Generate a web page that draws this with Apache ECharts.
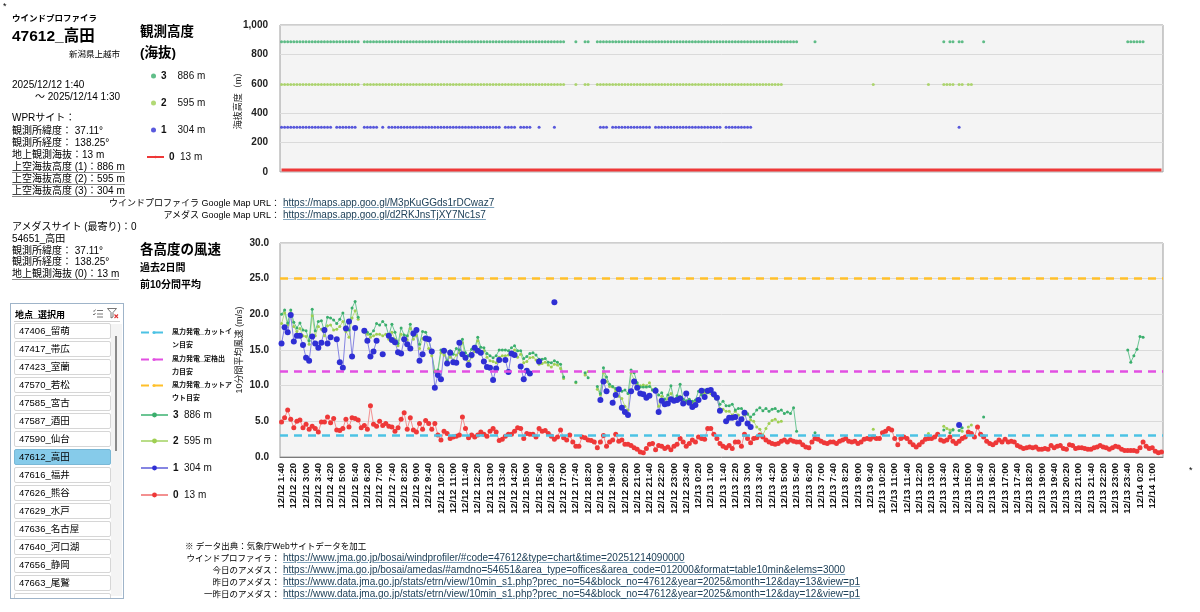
<!DOCTYPE html>
<html>
<head>
<meta charset="utf-8">
<script src="https://cdn.jsdelivr.net/npm/echarts/dist/echarts.min.js"></script>
<style>
body{margin:0;background:#fff;}
#wrap{position:relative;width:1200px;height:612px;overflow:hidden;font-family:"Liberation Sans","Noto Sans CJK JP",sans-serif;color:#000;}
#chart{position:absolute;left:0;top:0;width:1200px;height:612px;}
.t{position:absolute;white-space:nowrap;font-size:10px;line-height:12.2px;z-index:2;}
.b{font-weight:bold;}
.u{display:inline-block;border-bottom:1.5px solid #8a8a8a;line-height:11px;}
.lnk{color:#20425a;text-decoration:underline;text-decoration-color:#7fa3bd;font-size:10px;}
.r{text-align:right;}
#slicer{position:absolute;left:10px;top:303px;width:112px;height:294px;border:1px solid #9fb4c9;background:#fff;overflow:hidden;z-index:2;}
#slicer .hd{position:absolute;left:4px;top:4px;font-size:9px;font-weight:bold;}
#slicer .line{position:absolute;left:3px;right:3px;top:17px;border-top:1px solid #d0d0d0;}
#slicer .it{position:absolute;left:3px;width:91px;height:14px;border:1px solid #d6d6d6;border-radius:2px;font-size:9.5px;line-height:14px;padding-left:4px;box-sizing:content-box;}
#slicer .sel{background:#86cbea;border-color:#7ab8d6;}
#slicer .track{position:absolute;left:100px;top:20px;width:11px;height:272px;background:#f4f4f4;}
#slicer .thumb{position:absolute;left:104px;top:32px;width:2px;height:115px;background:#8a8a8a;}
</style>
</head>
<body>
<div id="wrap">
<div id="chart"></div>

<div class="t" style="left:3px;top:0px;font-size:9px">*</div>
<div class="t" style="left:1189px;top:464px;font-size:9px">*</div>

<div class="t b" style="left:12px;top:12px;font-size:8.5px">ウインドプロファイラ</div>
<div class="t b" style="left:12px;top:26px;font-size:15.5px;line-height:20px">47612_高田</div>
<div class="t" style="left:69px;top:48px;font-size:8.5px">新潟県上越市</div>
<div class="t" style="left:12px;top:79px">2025/12/12 1:40</div>
<div class="t" style="left:35px;top:91px">～ 2025/12/14 1:30</div>
<div class="t" style="left:12px;top:112px">WPRサイト：</div>
<div class="t" style="left:12px;top:125px">観測所緯度： 37.11°</div>
<div class="t" style="left:12px;top:137px">観測所経度： 138.25°</div>
<div class="t" style="left:12px;top:149px">地上観測海抜：13 m</div>
<div class="t" style="left:12px;top:161px"><span class="u">上空海抜高度 (1)：886 m</span></div>
<div class="t" style="left:12px;top:173px"><span class="u">上空海抜高度 (2)：595 m</span></div>
<div class="t" style="left:12px;top:185px"><span class="u">上空海抜高度 (3)：304 m</span></div>
<div class="t" style="left:12px;top:221px">アメダスサイト (最寄り)：0</div>
<div class="t" style="left:12px;top:233px">54651_高田</div>
<div class="t" style="left:12px;top:245px">観測所緯度： 37.11°</div>
<div class="t" style="left:12px;top:256px">観測所経度： 138.25°</div>
<div class="t" style="left:12px;top:268px"><span class="u">地上観測海抜 (0)：13 m</span></div>

<div id="slicer">
  <div class="hd">地点_選択用</div>
  <svg style="position:absolute;left:82px;top:5px" width="10" height="9" viewBox="0 0 10 9">
    <path d="M0 1.5 L1 2.5 L2.5 0.5 M0 5 L1 6 L2.5 4 M4 1.5 H10 M4 5 H10 M4 8 H10" stroke="#666" stroke-width="0.9" fill="none"/>
  </svg>
  <svg style="position:absolute;left:96px;top:4px" width="12" height="11" viewBox="0 0 12 11">
    <path d="M0.5 0.5 H9.5 L6 4.5 V9 L4 10 V4.5 Z" stroke="#666" stroke-width="0.9" fill="none"/>
    <path d="M7.5 6.5 L11 10 M11 6.5 L7.5 10" stroke="#d33" stroke-width="1.1"/>
  </svg>
  <div class="line"></div>
  <div class="track"></div>
  <div class="thumb"></div>
  <div id="items"></div>
</div>

<div class="t b" style="left:140px;top:23px;font-size:13.5px;line-height:17px">観測高度</div>
<div class="t b" style="left:140px;top:44px;font-size:13.5px;line-height:17px">(海抜)</div>

<div class="t r" style="right:920px;top:197px;font-size:9px">ウインドプロファイラ Google Map URL：</div>
<div class="t lnk" style="left:283px;top:197px">https://maps.app.goo.gl/M3pKuGGds1rDCwaz7</div>
<div class="t r" style="right:920px;top:209px;font-size:9px">アメダス Google Map URL：</div>
<div class="t lnk" style="left:283px;top:209px">https://maps.app.goo.gl/d2RKJnsTjXY7Nc1s7</div>

<div class="t b" style="left:140px;top:241px;font-size:13.5px;line-height:17px">各高度の風速</div>
<div class="t b" style="left:140px;top:262px;font-size:10px">過去2日間</div>
<div class="t b" style="left:140px;top:279px;font-size:10px">前10分間平均</div>

<div class="t" style="left:185px;top:540px;font-size:8.5px">※ データ出典：気象庁Webサイトデータを加工</div>
<div class="t r" style="right:920px;top:552px;font-size:8.5px">ウインドプロファイラ：</div>
<div class="t lnk" style="left:283px;top:552px">https://www.jma.go.jp/bosai/windprofiler/#code=47612&amp;type=chart&amp;time=20251214090000</div>
<div class="t r" style="right:920px;top:564px;font-size:8.5px">今日のアメダス：</div>
<div class="t lnk" style="left:283px;top:564px">https://www.jma.go.jp/bosai/amedas/#amdno=54651&amp;area_type=offices&amp;area_code=012000&amp;format=table10min&amp;elems=3000</div>
<div class="t r" style="right:920px;top:576px;font-size:8.5px">昨日のアメダス：</div>
<div class="t lnk" style="left:283px;top:576px">https://www.data.jma.go.jp/stats/etrn/view/10min_s1.php?prec_no=54&amp;block_no=47612&amp;year=2025&amp;month=12&amp;day=13&amp;view=p1</div>
<div class="t r" style="right:920px;top:588px;font-size:8.5px">一昨日のアメダス：</div>
<div class="t lnk" style="left:283px;top:588px">https://www.data.jma.go.jp/stats/etrn/view/10min_s1.php?prec_no=54&amp;block_no=47612&amp;year=2025&amp;month=12&amp;day=12&amp;view=p1</div>
</div>

<script>
// 地点リスト
var stations = ['47406_留萌', '47417_帯広', '47423_室蘭', '47570_若松', '47585_宮古', '47587_酒田',
    '47590_仙台', '47612_高田', '47616_福井', '47626_熊谷', '47629_水戸', '47636_名古屋',
    '47640_河口湖', '47656_静岡', '47663_尾鷲', ''];
var selectedStation = '47612_高田';

var N = 288;  // 10分毎 48時間
var startTime = new Date(2025, 11, 12, 1, 40);

// 観測高度（海抜 m）
var heights = { h0: 13, h1: 304, h2: 595, h3: 886 };

// 風力発電の目安（m/s）
var CUT_IN = 3.0;
var RATED = 12.0;
var CUT_OUT = 25.0;

// 0: 地上 13 m（アメダス）
var ws0 = [
    4.9,5.5,6.6,5.3,4.1,5.0,5.2,4.1,4.6,3.9,
    4.3,4.0,3.5,4.9,4.9,5.6,4.8,5.4,3.8,3.7,
    4.0,5.3,4.2,5.5,5.4,5.2,4.1,4.4,3.9,7.2,
    4.6,4.3,5.0,4.4,4.7,4.3,4.2,3.6,4.1,5.3,
    6.2,3.9,5.5,3.8,3.5,4.7,3.9,5.1,4.7,3.9,
    4.7,3.1,2.4,3.6,3.3,2.6,2.8,2.9,3.1,5.6,
    4.0,2.7,3.1,2.8,3.1,3.5,3.2,2.9,3.6,4.0,
    3.5,2.3,2.5,2.9,3.2,3.2,3.6,4.1,4.0,2.6,
    3.3,3.2,3.2,2.8,4.0,3.6,3.7,3.3,2.9,2.5,
    2.8,3.8,2.7,2.4,3.1,2.1,1.5,1.5,2.8,2.7,
    2.4,2.3,2.1,1.3,2.1,3.0,1.5,2.1,2.4,3.2,
    2.2,2.4,1.8,1.8,1.6,1.3,1.1,0.7,0.6,1.2,
    1.8,1.9,1.0,1.6,1.5,1.2,1.4,1.0,1.5,1.8,
    2.6,2.1,1.5,1.9,2.4,2.1,2.8,2.6,2.5,4.0,
    4.0,3.2,2.6,1.9,1.5,1.3,1.6,1.2,2.1,2.1,
    1.5,3.2,2.6,2.0,2.6,2.7,3.1,2.8,2.4,2.1,
    1.9,1.8,1.9,2.2,2.4,2.1,2.4,2.2,2.1,2.1,
    1.7,1.4,1.3,2.1,2.6,2.5,2.2,2.0,1.9,2.1,
    2.1,1.9,2.2,2.4,2.6,2.2,2.1,2.2,1.9,2.1,
    2.5,2.6,2.5,2.8,2.6,2.6,3.4,3.6,4.0,3.8,
    2.6,1.7,2.6,2.8,2.6,2.1,1.7,1.4,1.7,2.1,
    2.5,2.6,2.6,2.8,3.2,2.4,2.2,2.4,2.8,2.2,
    1.9,2.2,2.6,2.8,3.5,3.3,2.8,4.2,3.2,2.8,
    2.2,1.9,1.7,2.0,2.4,2.1,2.5,2.1,2.2,2.1,
    1.6,1.4,1.2,1.3,1.4,1.3,1.4,1.1,1.1,1.2,
    1.1,1.6,1.3,1.5,1.6,1.2,1.1,1.7,1.6,1.2,
    1.3,1.3,1.2,1.1,1.1,1.3,1.4,1.6,1.4,1.3,
    1.1,1.3,1.5,1.4,1.1,0.9,0.9,0.9,0.9,0.8,
    1.3,2.1,1.5,1.2,1.3,0.8,0.6,0.7
];

// 1: 304 m  [開始インデックス, 値]
var ws1Blocks = [
    [0, [15.9,18.2,17.5,19.9,16.2,17.0,17.0,15.7,13.9,13.5,
         16.9,15.9,15.3,16.0,17.8,15.9,16.8,null,16.5,13.3,
         12.5,18.0,19.0,14.1,18.1,null,null,17.7,16.3,14.1,
         14.8,16.3,null,14.4,null,17.0,16.4,16.1,14.7,14.5,
         16.5,15.8,15.2,17.3,17.8,13.5,14.4,16.6,16.5,14.8,
         9.7,11.5,10.9,14.9,13.1,14.6,13.3,13.2,16.0,14.4,
         13.9,12.9,14.3,15.3,14.9,14.6,13.4,12.6,12.5,10.8,
         12.4,13.6,null,13.6,11.9,14.5,14.3,null,12.7,10.9,
         12.1,11.7,null,null,13.4,null,null,null,null,21.7]],
    [104, [8.0,10.6,9.2,null,7.6,8.7,9.5,6.9,6.3,5.9,
           9.2,10.6,9.7,8.9,8.8,8.3,8.6,null,9.3,6.3,
           7.9,7.4,7.5,8.1,7.9,8.0,8.2,7.5,8.9,7.6,
           7.0,7.3,8.0,9.3,8.4,9.3,9.4,8.8,8.3,6.5,
           null,5.0,5.5,5.5,5.6,4.7,5.3,6.2,4.7,4.2]],
    [221, [4.5]]
];

// 2: 595 m
var ws2Blocks = [
    [0, [18.7,20.2,18.5,20.2,18.3,17.6,18.0,17.0,16.9,15.8,
         19.8,17.0,18.3,17.9,17.0,18.4,18.5,17.8,17.9,18.3,
         19.0,17.6,16.8,19.5,20.5,19.3,null,17.5,17.2,16.8,
         17.0,17.2,17.2,17.0,17.2,16.5,17.5,16.5,15.6,17.2,
         16.3,16.4,18.0,16.5,17.0,15.2,16.6,16.5,15.2,14.2,
         12.1,11.9,14.6,14.3,13.5,14.0,13.6,14.3,14.6,16.0,
         13.9,13.4,14.0,14.8,16.3,14.7,14.9,14.0,13.5,13.4,
         13.2,14.0,14.2,14.2,14.3,14.5,15.0,14.0,14.4,13.2,
         13.4,13.9,14.0,13.6,13.0,13.1,13.3,12.9,12.6,13.0,
         12.9,12.4,11.0]],
    [96, [10.4]],
    [99, [11.5,12.0]],
    [103, [9.5,8.7,11.8,10.6,9.9,9.8,9.2,8.5,8.2,7.1,
           6.6,11.8,10.8,10.1,10.0,10.1,10.0,10.4,9.4,9.4,
           7.1,8.5,7.6,8.2,8.9,7.9,7.8,8.5,7.8,7.6,
           8.0,7.5,7.8,8.2,8.9,9.0,9.2,8.9,8.5,8.1,
           6.8,6.7,6.4,6.4,5.9,6.4,5.9,5.4,5.9,6.1,
           5.2,5.0,4.2,3.9,3.1,4.0,4.7,5.1,5.3,4.9,
           5.0]],
    [193, [3.9]],
    [211, [3.3]],
    [216, [4.3,4.0,3.8,3.9,null,4.4,3.6,null,4.2,4.5]]
];

// 3: 886 m
var ws3Blocks = [
    [0, [20.0,20.6,18.8,20.6,18.9,18.1,18.8,17.8,17.7,16.3,
         20.7,17.7,19.0,19.1,17.6,19.6,19.5,19.2,18.7,19.3,
         20.2,18.2,17.8,20.9,21.8,19.6,null,17.6,17.5,17.2,
         17.7,18.7,18.5,19.0,18.5,17.0,18.6,17.5,15.9,18.1,
         17.1,17.0,18.6,17.0,17.6,15.8,17.6,17.5,16.5,14.6,
         11.9,12.2,15.0,15.0,13.5,14.9,14.4,15.2,15.0,16.5,
         14.6,14.2,15.1,15.2,16.8,15.4,15.3,14.5,14.2,13.9,
         14.2,15.0,15.0,15.0,14.9,15.3,15.6,14.9,14.9,13.8,
         14.1,14.5,14.6,14.3,13.7,13.7,13.8,13.3,13.2,13.5,
         13.3,13.0,11.2]],
    [96, [10.5]],
    [99, [11.8,11.1]],
    [103, [9.9,8.9,12.5,11.2,10.2,9.9,9.6,9.5,9.2,9.4,
           8.9,12.2,11.8,10.4,9.8,9.8,9.8,9.9,9.4,9.6,
           8.7,9.0,8.1,8.7,10.0,8.0,8.6,10.2,8.1,7.9,
           8.1,7.8,8.0,9.2,8.7,9.4,9.0,9.4,8.9,8.4,
           7.4,7.8,7.2,7.2,7.4,6.6,6.8,6.8,6.4,6.0,
           5.6,6.0,6.6,6.9,6.5,6.8,6.4,6.7,6.8,6.4,
           6.6,6.1,6.3,6.1,6.9,3.6]],
    [174, [3.4]],
    [216, [3.8,null,3.4,3.8,null,3.7,4.1]],
    [229, [5.6]],
    [276, [15.0,13.3,14.2,15.1,16.9,16.8]]
];

var FONT = "'Liberation Sans','Noto Sans CJK JP',sans-serif";

function expand(blocks) {
    var out = [];
    for (var i = 0; i < N; i++) out.push(null);
    blocks.forEach(function (b) {
        b[1].forEach(function (v, k) { out[b[0] + k] = v; });
    });
    return out;
}
var ws1 = expand(ws1Blocks);
var ws2 = expand(ws2Blocks);
var ws3 = expand(ws3Blocks);

// 風速が取れている時刻だけ観測高度を打つ
function heightRow(ws, h) {
    return ws.map(function (v) { return v == null ? null : h; });
}

var times = [];
for (var i = 0; i < N; i++) {
    var d = new Date(startTime.getTime() + i * 600000);
    times.push((d.getMonth() + 1) + '/' + d.getDate() + ' ' + d.getHours() + ':' + ('0' + d.getMinutes()).slice(-2));
}

// 地点リスト
var html = '';
stations.forEach(function (s, k) {
    html += '<div class="it' + (s === selectedStation ? ' sel' : '') + '" style="top:' + (19 + k * 18) + 'px">' + s + '</div>';
});
document.getElementById('items').innerHTML = html;

var colors = {
    h3: '#3aae6c', h2: '#9fcf52', h1: '#2f2fd4', h0: '#ee3838',
    cutin: '#4cc2e4', rated: '#e24fe2', cutout: '#ffc02a'
};

var richNum = {
    n: { width: 11, fontSize: 10, fontWeight: 'bold', fontFamily: FONT, color: '#111' },
    v: { fontSize: 10, fontFamily: FONT, color: '#111' }
};

function legItem(name, left, top, iw, ih, text) {
    return {
        data: [name], left: left, top: top, padding: 0, orient: 'vertical',
        itemWidth: iw, itemHeight: ih, itemGap: 0, selectedMode: false,
        formatter: function () { return text; },
        textStyle: { fontFamily: FONT, fontSize: 10, color: '#111', rich: richNum }
    };
}

function legThreshold(name, top, l1, l2) {
    return {
        data: [name], left: 140, top: top, padding: 0, orient: 'vertical',
        itemWidth: 26, itemHeight: 4, selectedMode: false,
        formatter: function () { return '{p| }\n{a|' + l1 + '}\n{a|' + l2 + '}'; },
        textStyle: {
            rich: {
                p: { fontSize: 7, lineHeight: 13 },
                a: { fontSize: 7, lineHeight: 13, fontFamily: FONT, fontWeight: 'bold', color: '#111' }
            }
        }
    };
}

function windLine(name, data, color, lineColor, size) {
    return {
        name: name, type: 'line', xAxisIndex: 1, yAxisIndex: 1, data: data,
        symbol: 'circle', symbolSize: size, showSymbol: true, showAllSymbol: true,
        connectNulls: false,
        itemStyle: { color: color }, lineStyle: { color: lineColor, width: 1 }
    };
}

function threshold(name, value, color) {
    var ls = { color: color, width: 2.5, type: [8, 6] };
    return {
        name: name, type: 'line', xAxisIndex: 1, yAxisIndex: 1, symbol: 'none', data: [],
        itemStyle: { color: color }, lineStyle: ls,
        markLine: { silent: true, symbol: 'none', label: { show: false }, lineStyle: ls, data: [{ yAxis: value }] }
    };
}

var chart = echarts.init(document.getElementById('chart'));

var option = {
    animation: false,
    grid: [
        { left: 280, top: 25, width: 883, height: 147, show: true, backgroundColor: '#f4f4f4', borderColor: '#9c9c9c', borderWidth: 1 },
        { left: 280, top: 243, width: 883, height: 214, show: true, backgroundColor: '#f4f4f4', borderColor: '#9c9c9c', borderWidth: 1 }
    ],
    xAxis: [
        { type: 'category', gridIndex: 0, data: times, axisLabel: { show: false }, axisTick: { show: false }, axisLine: { show: false } },
        {
            type: 'category', gridIndex: 1, data: times,
            axisLine: { lineStyle: { color: '#7a7a7a' } },
            axisTick: { interval: 0, length: 4, lineStyle: { color: '#555' } },
            axisLabel: { interval: 3, rotate: 90, fontSize: 9.5, fontWeight: 'bold', color: '#111', fontFamily: FONT, margin: 6 }
        }
    ],
    yAxis: [
        {
            type: 'value', gridIndex: 0, min: 0, max: 1000, interval: 200,
            name: '海抜高度（m）', nameLocation: 'middle', nameGap: 37, nameMoveOverlap: false,
            nameTextStyle: { fontSize: 9, color: '#222', fontFamily: FONT },
            axisLabel: { fontSize: 10, color: '#222', fontFamily: FONT, fontWeight: 'bold', margin: 12,
                formatter: function (v) { return v.toLocaleString('en-US'); } },
            splitLine: { lineStyle: { color: '#dadada' } }
        },
        {
            type: 'value', gridIndex: 1, min: 0, max: 30, interval: 5,
            name: '10分間平均風速 (m/s)', nameLocation: 'middle', nameGap: 36, nameMoveOverlap: false,
            nameTextStyle: { fontSize: 9, color: '#222', fontFamily: FONT },
            axisLabel: { fontSize: 10, color: '#222', fontFamily: FONT, fontWeight: 'bold', margin: 11,
                formatter: function (v) { return v.toFixed(1); } },
            splitLine: { lineStyle: { color: '#dadada' } }
        }
    ],
    legend: [
        legItem('top3', 151, 71, 5, 5, '{n|3}  {v|886 m}'),
        legItem('top2', 151, 98, 5, 5, '{n|2}  {v|595 m}'),
        legItem('top1', 151, 125, 5, 5, '{n|1}  {v|304 m}'),
        legItem('top0', 146, 152, 17, 3, '{n|0}{v|13 m}'),
        legThreshold('cutin', 316, '風力発電_カットイ', 'ン目安'),
        legThreshold('rated', 343, '風力発電_定格出', '力目安'),
        legThreshold('cutout', 369, '風力発電_カットア', 'ウト目安'),
        legItem('w3', 140, 410, 27, 6, '{n|3}{v|886 m}'),
        legItem('w2', 140, 436, 27, 6, '{n|2}{v|595 m}'),
        legItem('w1', 140, 463, 27, 6, '{n|1}{v|304 m}'),
        legItem('w0', 140, 490, 27, 6, '{n|0}{v|13 m}')
    ],
    series: [
        { name: 'top3', type: 'scatter', xAxisIndex: 0, yAxisIndex: 0, symbolSize: 3, itemStyle: { color: colors.h3 }, data: heightRow(ws3, heights.h3) },
        { name: 'top2', type: 'scatter', xAxisIndex: 0, yAxisIndex: 0, symbolSize: 3, itemStyle: { color: colors.h2 }, data: heightRow(ws2, heights.h2) },
        { name: 'top1', type: 'scatter', xAxisIndex: 0, yAxisIndex: 0, symbolSize: 3, itemStyle: { color: colors.h1 }, data: heightRow(ws1, heights.h1) },
        { name: 'top0', type: 'line', xAxisIndex: 0, yAxisIndex: 0, symbol: 'none', itemStyle: { color: colors.h0 }, lineStyle: { color: colors.h0, width: 3 }, data: heightRow(ws0, heights.h0) },

        threshold('cutin', CUT_IN, colors.cutin),
        threshold('rated', RATED, colors.rated),
        threshold('cutout', CUT_OUT, colors.cutout),

        windLine('w2', ws2, colors.h2, '#b9dd88', 3),
        windLine('w3', ws3, colors.h3, '#6cc594', 3),
        windLine('w1', ws1, colors.h1, '#8585e2', 6),
        windLine('w0', ws0, colors.h0, '#f39090', 5)
    ]
};

chart.setOption(option);
</script>
</body>
</html>
